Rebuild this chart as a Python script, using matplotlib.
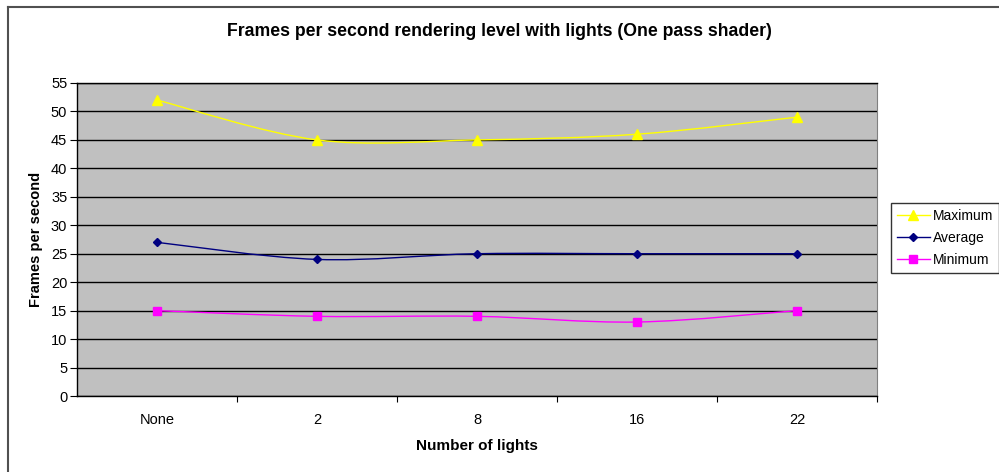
import matplotlib.pyplot as plt
from matplotlib.lines import Line2D
from matplotlib.path import Path
from matplotlib.patches import PathPatch

plt.rcParams['font.family'] = ['Liberation Sans', 'DejaVu Sans']

categories = ['None', '2', '8', '16', '22']
maximum = [52, 45, 45, 46, 49]
average = [27, 24, 25, 25, 25]
minimum = [15, 14, 14, 13, 15]
y_ticks = list(range(0, 56, 5))


def smooth_path(xs, ys):
    """Cubic Bezier path through the points (Catmull-Rom style smoothing)."""
    n = len(xs)
    verts = [(xs[0], ys[0])]
    codes = [Path.MOVETO]
    for i in range(n - 1):
        i0 = max(i - 1, 0)
        i3 = min(i + 2, n - 1)
        c1 = (xs[i] + (xs[i + 1] - xs[i0]) / 6, ys[i] + (ys[i + 1] - ys[i0]) / 6)
        c2 = (xs[i + 1] - (xs[i3] - xs[i]) / 6, ys[i + 1] - (ys[i3] - ys[i]) / 6)
        verts += [c1, c2, (xs[i + 1], ys[i + 1])]
        codes += [Path.CURVE4] * 3
    return Path(verts, codes)


fig = plt.figure(figsize=(9.99, 4.72), dpi=100)
fig.patch.set_facecolor('white')

# chart-area frame (left and top edges)
fig.add_artist(Line2D([8 / 999, 8 / 999], [0, 1 - 7 / 472], transform=fig.transFigure,
                      color='#505050', lw=1.5))
fig.add_artist(Line2D([8 / 999, 1], [1 - 7 / 472, 1 - 7 / 472], transform=fig.transFigure,
                      color='#505050', lw=1.5))

ax = fig.add_axes([77 / 999, 1 - 396 / 472, 800 / 999, 313 / 472])
ax.set_facecolor('#C0C0C0')

x = list(range(len(categories)))
series = [
    ('Maximum', maximum, '#FFFF00', '^', 7),
    ('Average', average, '#000080', 'D', 4.5),
    ('Minimum', minimum, '#FF00FF', 's', 5.5),
]
handles = []
for name, vals, color, marker, ms in series:
    ax.add_patch(PathPatch(smooth_path(x, vals), facecolor='none', edgecolor=color,
                           lw=1.0, zorder=3))
    ax.plot(x, vals, ls='none', marker=marker, markersize=ms, color=color, zorder=4)
    handles.append(Line2D([], [], color=color, marker=marker, markersize=ms, lw=1.0))

ax.set_xlim(-0.5, len(categories) - 0.5)
ax.set_ylim(0, 55)
ax.set_yticks(y_ticks)
ax.set_yticklabels([str(v) for v in y_ticks], fontsize=10.5)
ax.yaxis.grid(True, color='black', lw=1)
ax.set_axisbelow(True)

ax.set_xticks([i + 0.5 for i in range(len(categories))])
ax.set_xticklabels([])
ax.set_xticks(x, minor=True)
ax.set_xticklabels(categories, minor=True, fontsize=10.5)
ax.tick_params(axis='x', which='minor', length=0, pad=12)
ax.tick_params(axis='x', which='major', length=4, direction='out', color='black')
ax.tick_params(axis='y', length=5, direction='out', color='black', pad=2)

for side in ['left', 'bottom', 'top']:
    ax.spines[side].set_color('black')
    ax.spines[side].set_linewidth(1)
ax.spines['right'].set_color('#808080')

ax.set_xlabel('Number of lights', fontsize=11, fontweight='bold', labelpad=9)
ax.set_ylabel('Frames per second', fontsize=10.5, fontweight='bold', labelpad=6)

fig.text(0.5, 1 - 31 / 472, 'Frames per second rendering level with lights (One pass shader)',
         ha='center', va='center', fontsize=12.7, fontweight='bold')

leg = fig.legend(handles, [s[0] for s in series], loc='upper left',
                 bbox_to_anchor=(891 / 999, 1 - 203 / 472),
                 fontsize=10, frameon=True, fancybox=False, edgecolor='black',
                 borderpad=0.4, labelspacing=0.6, handlelength=2.4, handletextpad=0.25,
                 borderaxespad=0)
leg.get_frame().set_linewidth(1)

fig.savefig('out.png', dpi=100)
